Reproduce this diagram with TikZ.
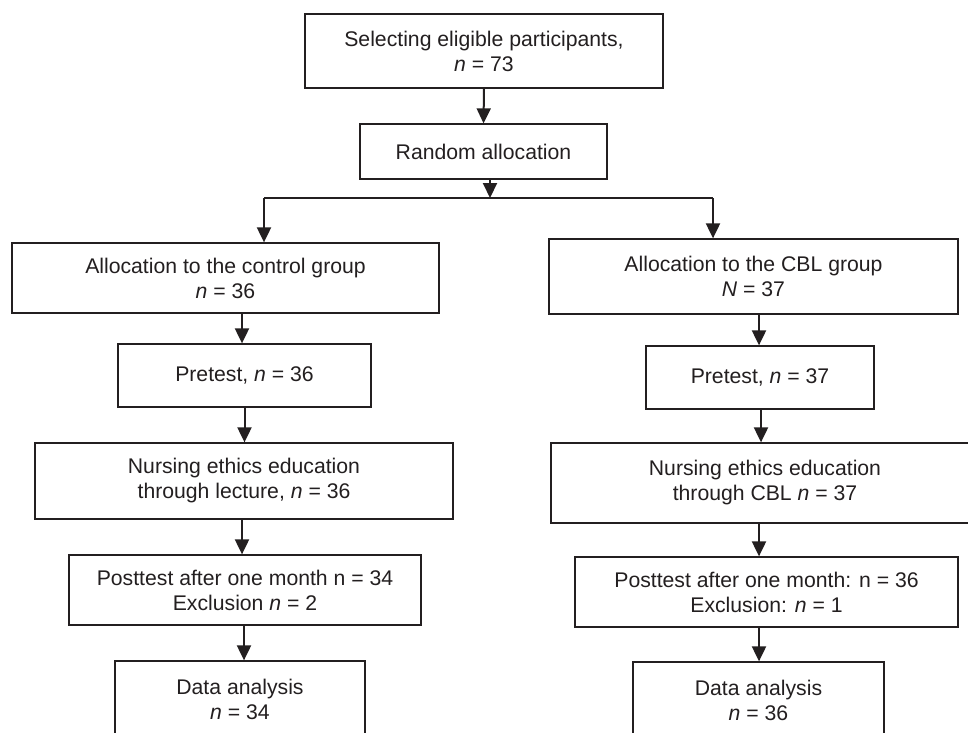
\documentclass[tikz,border=0pt]{standalone}
\usepackage{fontspec}
\setmainfont{Liberation Sans}
\usetikzlibrary{arrows.meta}
\definecolor{ink}{HTML}{231F20}
\begin{document}
\begin{tikzpicture}[x=1pt,y=-1pt,
  box/.style={draw=ink,line width=1.3pt,align=center,inner sep=0pt,
    font=\fontsize{21.2}{25}\selectfont,text=ink},
  arr/.style={draw=ink,line width=2pt,-{Triangle[length=15pt,width=14pt]}},
  ln/.style={draw=ink,line width=2pt}]
\useasboundingbox (0,0) rectangle (968,732);
\clip (0,0) rectangle (968,732);
\fill[white] (0,0) rectangle (968,732);
\node[box,minimum width=358pt,minimum height=74pt] (b1) at (484,51) {Selecting eligible participants,\\\textit{n} = 73};
\node[box,minimum width=247pt,minimum height=55pt] (b2) at (483.5,151.5) {Random allocation};
\node[box,minimum width=427pt,minimum height=70pt] (L1) at (225.5,278) {Allocation to the control group\\\textit{n} = 36};
\node[box,minimum width=409pt,minimum height=75pt] (R1) at (753.5,276.5) {Allocation to the CBL group\\\textit{N} = 37};
\node[box,minimum width=253pt,minimum height=63pt] (L2) at (244.5,375.5) {Pretest, \textit{n} = 36};
\node[box,minimum width=228pt,minimum height=63pt] (R2) at (760,377.5) {Pretest, \textit{n} = 37};
\node[box,minimum width=418pt,minimum height=76pt] (L3) at (244,481) {Nursing ethics education\\ through lecture, \textit{n} = 36};
\node[box,minimum width=428pt,minimum height=80pt] (R3) at (765,483) {Nursing ethics education\\ through CBL \textit{n} = 37};
\node[box,minimum width=352pt,minimum height=70pt] (L4) at (245,590) {Posttest after one month n = 34\\Exclusion \textit{n} = 2};
\node[box,minimum width=383pt,minimum height=70pt] (R4) at (766.5,592) {Posttest after one month: n = 36\\Exclusion: \textit{n} = 1};
\node[box,minimum width=250pt,minimum height=76pt] (L5) at (240,699) {Data analysis\\\textit{n} = 34};
\node[box,minimum width=251pt,minimum height=76pt] (R5) at (758.5,700) {Data analysis\\\textit{n} = 36};
\coordinate (j) at (490,198);
\coordinate (jl) at (264,198);
\coordinate (jr) at (713,198);
\draw[arr] (b1.south) -- (b2.north);
\draw[arr] (b2.south -| j) -- (j);
\draw[ln] (jl) -- (jr);
\draw[arr] (jl) -- (jl |- L1.north);
\draw[arr] (jr) -- (jr |- R1.north);
\draw[arr] (L1.south -| 242,0) -- (L2.north -| 242,0);
\draw[arr] (L2.south) -- (L3.north -| L2.south);
\draw[arr] (L3.south -| 242,0) -- (L4.north -| 242,0);
\draw[arr] (L4.south -| 244,0) -- (L5.north -| 244,0);
\draw[arr] (R1.south -| 759,0) -- (R2.north -| 759,0);
\draw[arr] (R2.south -| 761,0) -- (R3.north -| 761,0);
\draw[arr] (R3.south -| 759,0) -- (R4.north -| 759,0);
\draw[arr] (R4.south -| 759,0) -- (R5.north -| 759,0);
\end{tikzpicture}
\end{document}
